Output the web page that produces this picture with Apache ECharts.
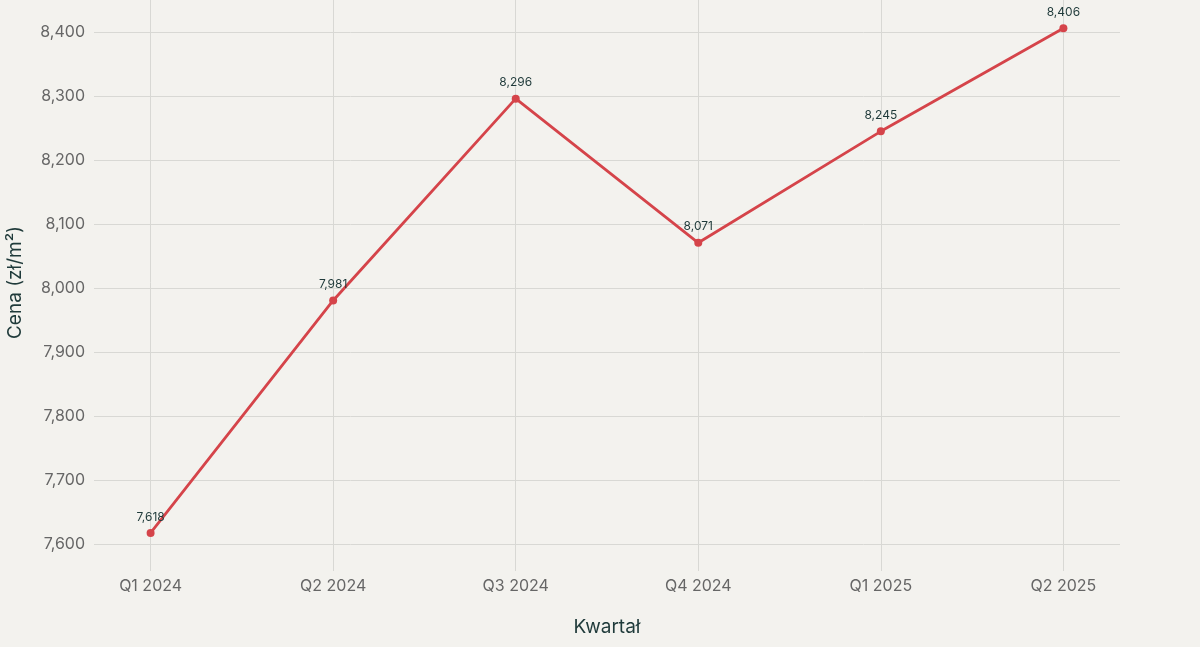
<!DOCTYPE html>
<html>
<head>
<meta charset="utf-8">
<script src="https://cdn.jsdelivr.net/npm/echarts@6/dist/echarts.min.js"></script>
<style>
    html, body { margin: 0; padding: 0; background: #f3f2ee; }
    #chart { width: 1200px; height: 647px; }
</style>
</head>
<body>
<div id="chart"></div>
<script>
// dane: średnia cena m² w kolejnych kwartałach
var quarters = ['Q1 2024', 'Q2 2024', 'Q3 2024', 'Q4 2024', 'Q1 2025', 'Q2 2025'];
var prices = [7618, 7981, 8296, 8071, 8245, 8406];
var yTicks = [7600, 7700, 7800, 7900, 8000, 8100, 8200, 8300, 8400];
var xTicks = [0, 1, 2, 3, 4, 5];

var fontFamily = 'Inter, "Open Sans", sans-serif';
var gridColor = '#d8d8d4';

var chart = echarts.init(document.getElementById('chart'));
chart.setOption({
    backgroundColor: '#f3f2ee',
    grid: { left: 94, right: 80, top: 0, height: 565, outerBoundsMode: 'none', containLabel: false },
    xAxis: {
        type: 'value',
        min: -0.31,
        max: 5.31,
        name: 'Kwartał',
        nameLocation: 'middle',
        nameGap: 53,
        nameTextStyle: { color: '#1f3a3a', fontSize: 19, fontFamily: fontFamily },
        axisLine: { show: false },
        axisTick: { show: true, customValues: xTicks, length: 6, lineStyle: { color: gridColor } },
        axisLabel: {
            customValues: xTicks,
            color: '#666666', fontSize: 16, fontFamily: fontFamily, margin: 13,
            formatter: function (v) { return quarters[Math.round(v)]; }
        },
        splitLine: { show: true, lineStyle: { color: gridColor, width: 1 } }
    },
    yAxis: {
        type: 'value',
        min: 7568,
        max: 8450,
        name: 'Cena (zł/m²)',
        nameLocation: 'middle',
        nameGap: 69,
        nameTextStyle: { color: '#1f3a3a', fontSize: 19, fontFamily: fontFamily },
        axisLine: { show: false },
        axisTick: { show: true, customValues: yTicks, length: 5, lineStyle: { color: gridColor } },
        axisLabel: {
            customValues: yTicks,
            color: '#666666', fontSize: 16, fontFamily: fontFamily, margin: 9,
            formatter: function (v) { return v.toLocaleString('en-US'); }
        },
        splitLine: { show: true, lineStyle: { color: gridColor, width: 1 } }
    },
    series: [{
        type: 'line',
        data: prices.map(function (p, i) { return [i, p]; }),
        symbol: 'circle',
        symbolSize: 8,
        lineStyle: { color: '#d5444a', width: 2.8 },
        itemStyle: { color: '#d5444a' },
        label: {
            show: true,
            position: 'top',
            distance: 6,
            color: '#1f3a3a',
            fontSize: 12,
            fontFamily: fontFamily,
            formatter: function (p) { return p.value[1].toLocaleString('en-US'); }
        },
        animation: false
    }]
});
window.addEventListener('resize', function () {
    chart.resize();
});
</script>
</body>
</html>
